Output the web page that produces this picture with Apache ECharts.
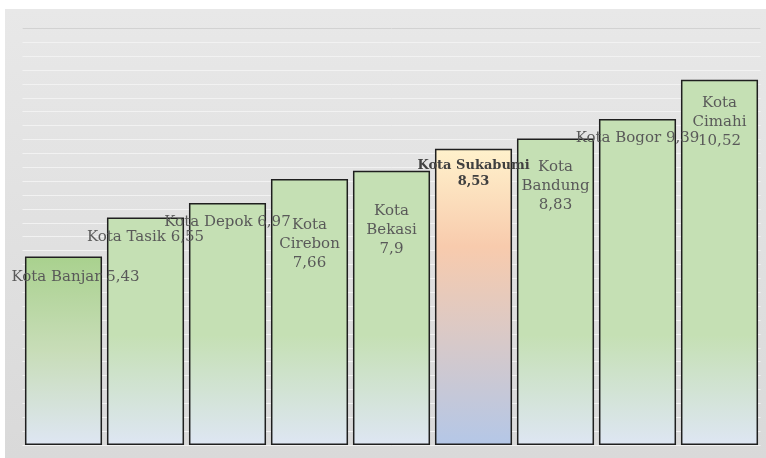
<!DOCTYPE html>
<html>
<head>
<meta charset="utf-8">
<script src="https://cdn.jsdelivr.net/npm/echarts@6/dist/echarts.min.js"></script>
<style>
  html, body { margin: 0; padding: 0; background: #fff; }
  #chart { width: 766px; height: 458px; }
</style>
</head>
<body>
<div id="chart"></div>
<script>
// data
const cities = ['Kota Banjar', 'Kota Tasik', 'Kota Depok', 'Kota Cirebon', 'Kota Bekasi',
  'Kota Sukabumi', 'Kota Bandung', 'Kota Bogor', 'Kota Cimahi']
const values = [5.43, 6.55, 6.97, 7.66, 7.9, 8.53, 8.83, 9.39, 10.52]
// how each data label wraps: 1 = one line, 2 = name / value, 3 = Kota / name / value
const labelWrap = [1, 1, 1, 3, 3, 2, 3, 1, 3]
const highlight = 'Kota Sukabumi'

// label placement (px below bar top, px sideways)
const labelTop = [11, 10, 10, 37, 31, 9, 19, 10, 14]
const labelShift = [12, 0, 0, 0, 0, 0, 0, 0, 0]

function fmt(v) {
  return String(v).replace('.', ',')
}

function labelText(i) {
  let name = cities[i]
  let v = fmt(values[i])
  if (labelWrap[i] === 3) return name.replace(' ', '\n') + '\n' + v
  if (labelWrap[i] === 2) return name + '\n' + v
  return name + ' ' + v
}

const green = new echarts.graphic.LinearGradient(0, 335, 0, 445, [
  { offset: 0, color: '#c5e0b4' },
  { offset: 1, color: '#dee6f3' }
], true)
const greenLow = new echarts.graphic.LinearGradient(0, 257, 0, 445, [
  { offset: 0, color: '#a9d18e' },
  { offset: 0.5, color: '#c8ddb8' },
  { offset: 1, color: '#dee6f3' }
], true)
const warm = new echarts.graphic.LinearGradient(0, 0, 0, 1, [
  { offset: 0, color: '#fff2cc' },
  { offset: 0.33, color: '#f8cbad' },
  { offset: 1, color: '#b4c7e7' }
])

const barData = values.map((v, i) => {
  let isHi = cities[i] === highlight
  return {
    value: v,
    itemStyle: { color: isHi ? warm : (i === 0 ? greenLow : green) },
    label: {
      show: true,
      position: 'insideTop',
      distance: labelTop[i],
      offset: [labelShift[i], 0],
      formatter: () => labelText(i),
      fontFamily: 'DejaVu Serif',
      fontSize: isHi ? 13 : 15,
      fontWeight: isHi ? 'bold' : 'normal',
      lineHeight: isHi ? 16 : 19,
      color: isHi ? '#404040' : '#595959'
    }
  }
})

const chart = echarts.init(document.getElementById('chart'))
chart.setOption({
  backgroundColor: '#ffffff',
  animation: false,
  graphic: [{
    type: 'rect',
    left: 5,
    top: 9,
    z: -10,
    shape: { width: 761, height: 449 },
    style: {
      fill: new echarts.graphic.LinearGradient(0, 0, 0, 1, [
        { offset: 0, color: '#e8e8e8' },
        { offset: 1, color: '#d9d9d9' }
      ])
    }
  }],
  grid: {
    left: 22.5,
    right: 5.5,
    top: 28.4,
    bottom: 13,
    containLabel: false
  },
  xAxis: {
    type: 'category',
    data: cities,
    axisLine: { show: false },
    axisTick: { show: false },
    axisLabel: { show: false }
  },
  yAxis: {
    type: 'value',
    min: 0,
    max: 12,
    interval: 0.4,
    axisLine: { show: false },
    axisTick: { show: false },
    axisLabel: { show: false },
    splitLine: { lineStyle: { color: '#f2f2f2', width: 1 } }
  },
  series: [{
    type: 'bar',
    data: barData,
    barCategoryGap: '6%',
    itemStyle: { borderColor: '#1f1f1f', borderWidth: 1.5 },
    markLine: {
      silent: true,
      symbol: 'none',
      label: { show: false },
      lineStyle: { color: '#d2d2d2', type: 'solid', width: 1 },
      data: [{ yAxis: 12 }]
    }
  }]
})
</script>
</body>
</html>
